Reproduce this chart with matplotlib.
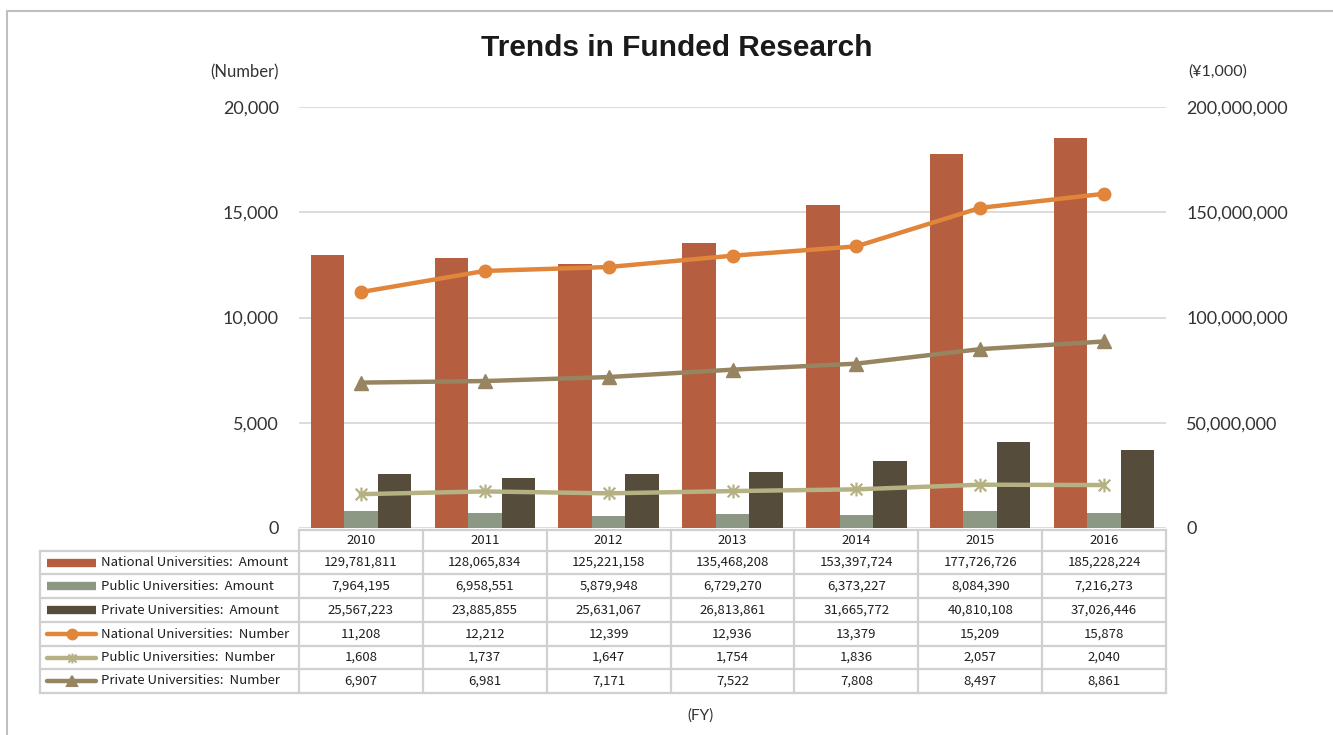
import matplotlib
matplotlib.use('Agg')
import matplotlib.pyplot as plt
import numpy as np
from matplotlib.ticker import FuncFormatter
from matplotlib.transforms import blended_transform_factory
from matplotlib.lines import Line2D
from matplotlib.patches import Rectangle
from matplotlib.path import Path

years = ['2010', '2011', '2012', '2013', '2014', '2015', '2016']

national_amount = [129781811, 128065834, 125221158, 135468208, 153397724, 177726726, 185228224]
public_amount = [7964195, 6958551, 5879948, 6729270, 6373227, 8084390, 7216273]
private_amount = [25567223, 23885855, 25631067, 26813861, 31665772, 40810108, 37026446]

national_number = [11208, 12212, 12399, 12936, 13379, 15209, 15878]
public_number = [1608, 1737, 1647, 1754, 1836, 2057, 2040]
private_number = [6907, 6981, 7171, 7522, 7808, 8497, 8861]

row_labels = ['National Universities:  Amount', 'Public Universities:  Amount',
              'Private Universities:  Amount', 'National Universities:  Number',
              'Public Universities:  Number', 'Private Universities:  Number']

c_nat_bar, c_pub_bar, c_pri_bar = '#B55F40', '#8D9884', '#554C3B'
c_nat_line, c_pub_line, c_pri_line = '#E0853A', '#B5B183', '#978562'

# excel style "star" marker: an x with a vertical stroke
star = Path([(-1, -1), (1, 1), (-1, 1), (1, -1), (0, -1.2), (0, 1.2)],
            [Path.MOVETO, Path.LINETO, Path.MOVETO, Path.LINETO, Path.MOVETO, Path.LINETO])

plt.rcParams['font.family'] = ['Lato', 'DejaVu Sans']

W, H = 1333, 735
def fx(px):
    return px / W
def fy(py):
    return 1 - py / H

fig = plt.figure(figsize=(W / 100, H / 100), dpi=100)
ax = fig.add_axes([fx(299), fy(528), fx(1166) - fx(299), fy(107) - fy(528)])

x = np.arange(len(years))
bw = 0.27
ax.bar(x - bw, national_amount, bw, color=c_nat_bar, zorder=2)
ax.bar(x, public_amount, bw, color=c_pub_bar, zorder=2)
ax.bar(x + bw, private_amount, bw, color=c_pri_bar, zorder=2)
ax.grid(axis='y', color='#D9D9D9', lw=1.3, zorder=0)
ax.set_axisbelow(True)

ax2 = ax.twinx()
ax2.plot(x, national_number, color=c_nat_line, lw=3.2, marker='o', ms=9, zorder=3)
ax2.plot(x, public_number, color=c_pub_line, lw=3.2, marker=star, ms=10, mew=1.6, zorder=3)
ax2.plot(x, private_number, color=c_pri_line, lw=3.2, marker='^', ms=10, zorder=3)

# amounts on the right, numbers on the left
ax.set_yticks(np.arange(0, 2.01e8, 5e7))
ax.yaxis.set_major_formatter(FuncFormatter(lambda v, p: f'{v:,.0f}'))
ax.yaxis.tick_right()
ax2.set_yticks(np.arange(0, 20001, 5000))
ax2.yaxis.set_major_formatter(FuncFormatter(lambda v, p: f'{v:,.0f}'))
ax2.yaxis.tick_left()
for a in (ax, ax2):
    a.tick_params(axis='y', length=0, pad=14.5, labelsize=13, labelcolor='#333333')
    a.set_xticks([])
    for s in a.spines.values():
        s.set_visible(False)

# data table under the plot
rows_px = [530, 551, 574, 598, 622, 646, 669, 693]
def ay(py):
    return (528 - py) / 421
label_left = (40 - 299) / 867
tr = blended_transform_factory(ax.transData, ax.transAxes)
gc = '#D0D0D0'
tfont = dict(family=['Noto Sans CJK JP', 'DejaVu Sans'], size=9.5, color='#1f1f1f')

# horizontal lines
ax.add_line(Line2D([-0.5, 6.5], [ay(rows_px[0])] * 2, transform=tr, color=gc, lw=1.6, clip_on=False))
for py in rows_px[1:]:
    ax.add_line(Line2D([label_left, 1], [ay(py)] * 2, transform=ax.transAxes, color=gc, lw=1.6, clip_on=False))
# vertical lines
ax.add_line(Line2D([label_left] * 2, [ay(rows_px[1]), ay(rows_px[-1])], transform=ax.transAxes,
                   color=gc, lw=1.6, clip_on=False))
for xb in np.arange(len(years) + 1) - 0.5:
    ax.add_line(Line2D([xb, xb], [ay(rows_px[0]), ay(rows_px[-1])], transform=tr,
                       color=gc, lw=1.6, clip_on=False))

for i, yr in enumerate(years):
    ax.text(i, ay((rows_px[0] + rows_px[1]) / 2), yr, transform=tr, ha='center', va='center', **tfont)

table_data = [national_amount, public_amount, private_amount,
              national_number, public_number, private_number]
swatches = [('bar', c_nat_bar, None), ('bar', c_pub_bar, None), ('bar', c_pri_bar, None),
            ('line', c_nat_line, 'o'), ('line', c_pub_line, star), ('line', c_pri_line, '^')]
sx0, sx1 = (47 - 299) / 867, (96 - 299) / 867
for r, (vals, lab, sw) in enumerate(zip(table_data, row_labels, swatches)):
    yc = ay((rows_px[r + 1] + rows_px[r + 2]) / 2)
    for i, v in enumerate(vals):
        ax.text(i, yc, f'{v:,}', transform=tr, ha='center', va='center', **tfont)
    ax.text((101 - 299) / 867, yc, lab, transform=ax.transAxes, ha='left', va='center', **tfont)
    kind, col, mk = sw
    if kind == 'bar':
        ax.add_line(Line2D([sx0, sx1], [yc, yc], transform=ax.transAxes, color=col, lw=6,
                           solid_capstyle='butt', clip_on=False))
    else:
        ax.add_line(Line2D([sx0, sx1], [yc, yc], transform=ax.transAxes, color=col, lw=3.2,
                           solid_capstyle='round', clip_on=False))
        ax.add_line(Line2D([(sx0 + sx1) / 2], [yc], transform=ax.transAxes, color=col, lw=0,
                           marker=mk, ms=7, mew=1.5, clip_on=False))

ax.set_xlim(-0.5, 6.5)
ax.set_ylim(0, 2e8)
ax2.set_xlim(-0.5, 6.5)
ax2.set_ylim(0, 20000)

fig.text(fx(677), fy(48), 'Trends in Funded Research', ha='center', va='center',
         family='Liberation Sans', weight='bold', size=21.5, color='#1a1a1a')
fig.text(fx(245), fy(72), '(Number)', ha='center', va='center', size=12, color='#333333')
fig.text(fx(1218), fy(72), '(¥1,000)', ha='center', va='center', size=11.5, color='#333333')
fig.text(fx(701), fy(716), '(FY)', ha='center', va='center', size=11, color='#333333')

fig.add_artist(Rectangle((fx(7), fy(745)), 1.1, fy(11) - fy(745), transform=fig.transFigure,
                         fill=False, ec='#BFBFBF', lw=1.5))

fig.savefig('out.png', dpi=100)
